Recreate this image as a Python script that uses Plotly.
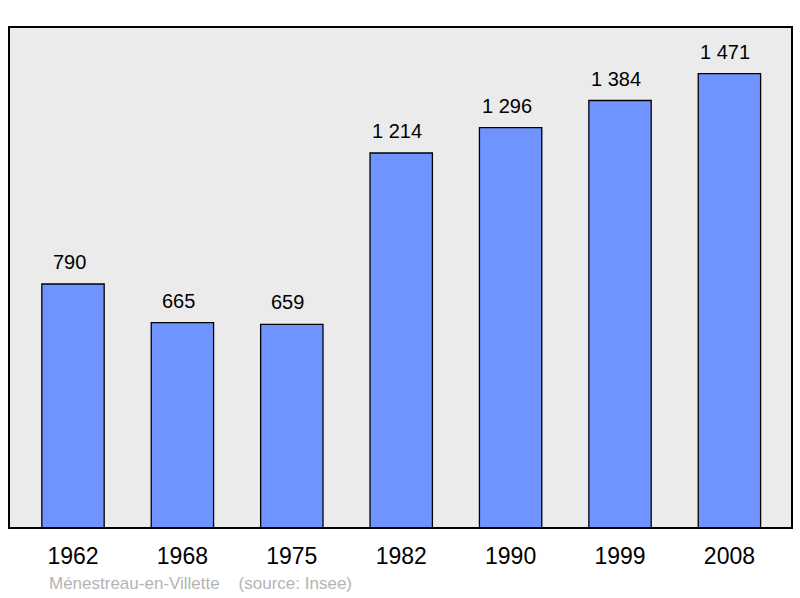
import plotly.graph_objects as go

years = ["1962", "1968", "1975", "1982", "1990", "1999", "2008"]
population = [790, 665, 659, 1214, 1296, 1384, 1471]
footer_text = "Ménestreau-en-Villette &nbsp;&nbsp; (source: Insee)"

def fmt(v):
    return f"{v:,}".replace(",", " ")

fig = go.Figure()
fig.add_trace(go.Bar(
    x=years, y=population, width=0.57,
    marker=dict(color="#7094ff", line=dict(color="#000000", width=1.3)),
    hoverinfo="skip",
))

for i, v in enumerate(population):
    fig.add_annotation(x=i, y=v, text=fmt(v), showarrow=False, yanchor="bottom",
                       yshift=9, xshift=-4,
                       font=dict(size=20, color="#000000", family="Liberation Sans"))

fig.add_annotation(xref="paper", yref="paper", x=(47 - 9) / 783, y=-(583 - 528) / 501,
                   xanchor="left", yanchor="middle", showarrow=False, text=footer_text,
                   font=dict(size=17, color="#b4b4b4", family="Liberation Sans"))

fig.add_shape(type="rect", xref="paper", yref="paper", x0=0, x1=1, y0=0, y1=1,
              line=dict(color="#000000", width=2), layer="above")

fig.update_layout(
    width=800, height=598,
    margin=dict(l=9, r=8, t=27, b=70),
    paper_bgcolor="#ffffff", plot_bgcolor="#ebebeb",
    showlegend=False,
    bargap=0.43,
    font=dict(family="Liberation Sans", color="#000000"),
    xaxis=dict(type="category", range=[-0.585, 6.572], showgrid=False, zeroline=False,
               ticks="outside", ticklen=7, tickcolor="rgba(0,0,0,0)",
               tickfont=dict(size=23, family="Liberation Sans", color="#000000")),
    yaxis=dict(range=[0, 1622], showgrid=False, zeroline=False, showticklabels=False, ticks=""),
)

fig.write_html("out.html", config={"displayModeBar": False},
               post_script="document.body.style.margin='0';")
